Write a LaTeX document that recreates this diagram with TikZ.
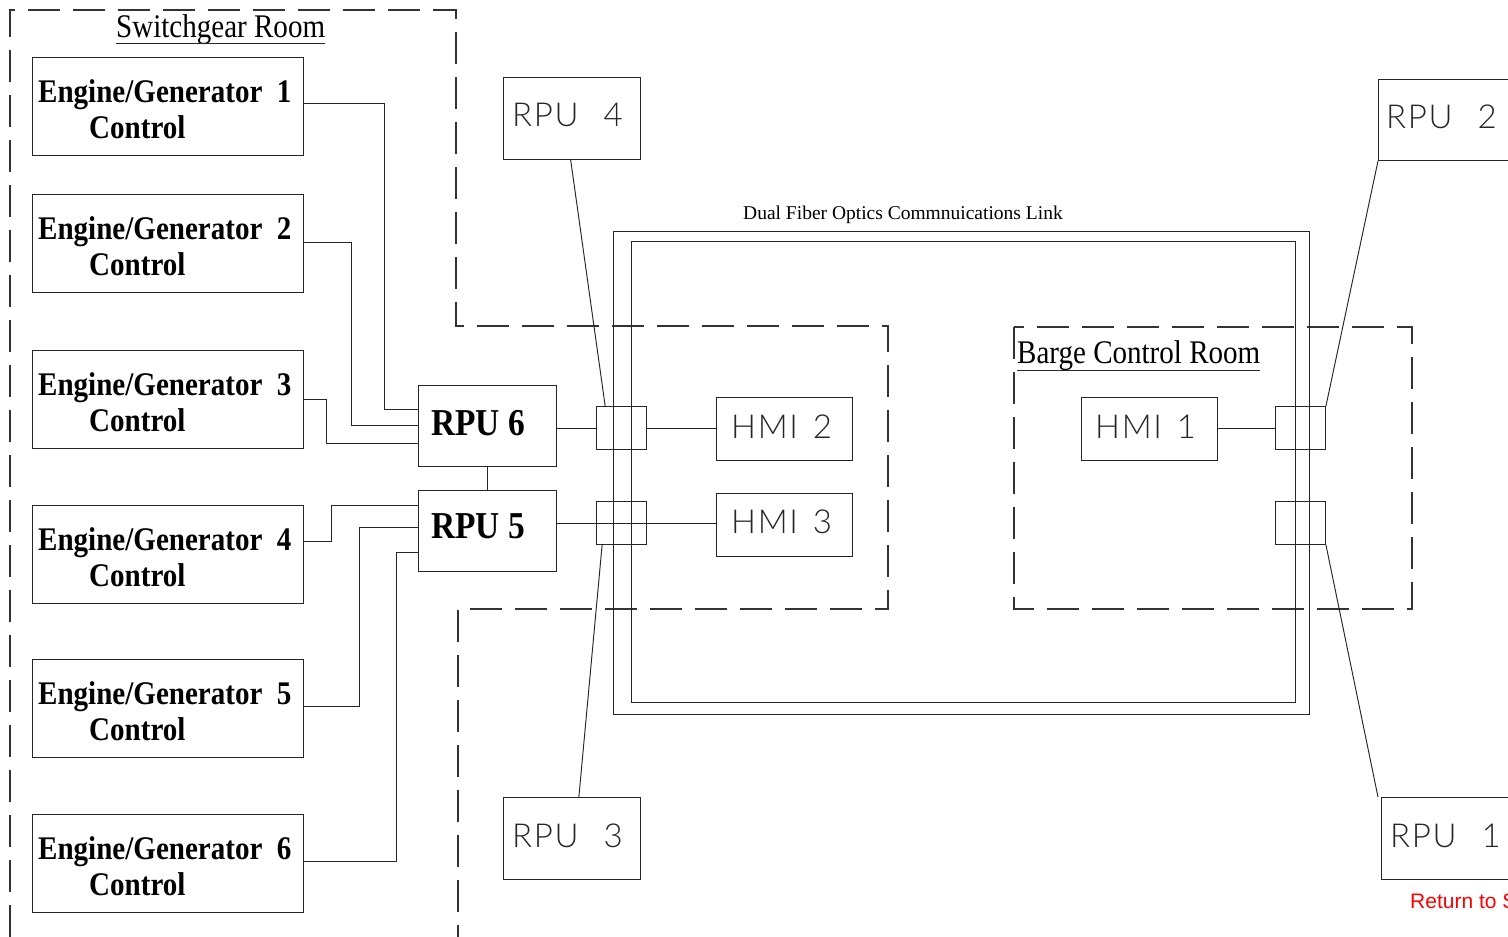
\documentclass[tikz,border=0pt]{standalone}
\usepackage{fontspec}
\setmainfont{Liberation Serif}
\newfontfamily\cadfont{Lato Light}[LetterSpace=5]
\newfontfamily\arialfont{Liberation Sans}
\usetikzlibrary{calc}
\newcommand{\nar}[1]{\scalebox{0.88}[1]{#1}}
\tikzset{
  wire/.style={line width=0.95pt, draw=black!85},
  roomline/.style={line width=1.1pt, draw=black!80, dash pattern=on 32pt off 13pt},
  boxn/.style={draw=black!85, line width=0.95pt, inner sep=0pt, anchor=north west, rectangle},
  egbox/.style={boxn, minimum width=271pt, minimum height=97.5pt},
  rpubox/.style={boxn, minimum width=138pt, minimum height=81pt},
  jbox/.style={boxn, minimum width=50pt, minimum height=43pt},
  hmibox/.style={boxn, minimum width=136pt, minimum height=63pt},
  cadbox/.style={boxn, minimum width=137pt, minimum height=81.5pt},
  txt/.style={inner sep=0pt, anchor=base west},
  egt/.style={txt, font=\fontsize{33}{33}\selectfont\bfseries},
  rpt/.style={txt, font=\fontsize{38}{38}\selectfont\bfseries},
  cadt/.style={txt, font=\fontsize{33}{33}\selectfont\cadfont, text=black!85},
  roomt/.style={txt, font=\fontsize{33}{33}\selectfont},
}
\begin{document}
\begin{tikzpicture}[x=1pt,y=-1pt]
\useasboundingbox (0,0) rectangle (1508,937);
\fill[white] (0,0) rectangle (1508,937);

% rooms
\draw[roomline] (10,937) -- (10,10) -- (456,10) -- (456,326) -- (888,326) -- (888,609) -- (458,609) -- (458,937);
\draw[roomline] (1014,327) rectangle (1412,609);
\node[roomt] (sgr) at (116,37) {\nar{Switchgear Room}};
\draw[wire] ($(sgr.base west)+(0,6)$) -- ($(sgr.base east)+(0,6)$);
\node[roomt] (bcr) at (1017,363) {\nar{Barge Control Room}};
\draw[wire] ($(bcr.base west)+(0,7)$) -- ($(bcr.base east)+(0,7)$);

% engine/generator controls
\foreach \i/\t in {1/57,2/194,3/350,4/505,5/659,6/814}{
  \node[egbox] (eg\i) at (32,\t) {};
  \node[egt] (eg\i a) at (38,\t+45) {\nar{Engine/Generator\ \ \i}};
  \node[egt] (eg\i b) at (89,\t+81) {\nar{Control}};
}

% RPU 6 / RPU 5
\node[rpubox] (rpu6) at (418,385) {};
\node[rpt] (rpu6t) at (431,435) {\nar{RPU 6}};
\node[rpubox] (rpu5) at (418,490) {};
\node[rpt] (rpu5t) at (431,538) {\nar{RPU 5}};
\draw[wire] (rpu6.south) -- (rpu5.north);

\draw[wire] (eg1.east |- 0,103) -| (384,409) -- (rpu6.west |- 0,409);
\draw[wire] (eg2.east |- 0,242) -| (351,425) -- (rpu6.west |- 0,425);
\draw[wire] (eg3.east |- 0,399) -| (326,443) -- (rpu6.west |- 0,443);
\draw[wire] (eg4.east |- 0,541) -| (331,505) -- (rpu5.west |- 0,505);
\draw[wire] (eg5.east |- 0,706) -| (359,527) -- (rpu5.west |- 0,527);
\draw[wire] (eg6.east |- 0,861) -| (396,552) -- (rpu5.west |- 0,552);

% fiber link
\draw[wire] (613,231) rectangle (1309,714);
\draw[wire] (631,241) rectangle (1295,702);
\node[txt, font=\fontsize{19.5}{19.5}\selectfont] (fib) at (743,219) {Dual Fiber Optics Commnuications Link};

% junction boxes
\node[jbox] (jb1) at (596,406) {};
\node[jbox] (jb2) at (596,501) {};
\node[jbox] (jb3) at (1275,406) {};
\node[jbox] (jb4) at (1275,501) {};

% HMIs
\node[hmibox] (hmi2) at (716,397) {};
\node[cadt] (hmi2t) at (731,438) {HMI\hspace{15pt}2};
\node[hmibox] (hmi3) at (716,493) {};
\node[cadt] (hmi3t) at (731,533) {HMI\hspace{15pt}3};
\node[hmibox] (hmi1) at (1081,397) {};
\node[cadt] (hmi1t) at (1095,438) {HMI\hspace{15pt}1};

\draw[wire] (rpu6.east |- jb1.west) -- (jb1.west);
\draw[wire] (jb1.east) -- (hmi2.west |- jb1.east);
\draw[wire] (rpu5.east |- jb2.center) -- (hmi3.west |- jb2.center);
\draw[wire] (hmi1.east |- jb3.west) -- (jb3.west);

% remote RPUs
\node[cadbox] (rpu4) at (503,77) {};
\node[cadt] (rpu4t) at (512,126) {RPU\hspace{25pt}4};
\node[cadbox] (rpu3) at (503,797) {};
\node[cadt] (rpu3t) at (512,847) {RPU\hspace{25pt}3};
\node[boxn, minimum width=160pt, minimum height=81pt] (rpu2) at (1378,79) {};
\node[cadt] (rpu2t) at (1386,128) {RPU\hspace{25pt}2};
\node[boxn, minimum width=160pt, minimum height=82pt] (rpu1) at (1381,797) {};
\node[cadt] (rpu1t) at (1390,847) {RPU\hspace{25pt}1};

\draw[wire] ($(rpu4.south west)!0.49!(rpu4.south east)$) -- ($(jb1.north west)!0.18!(jb1.north east)$);
\draw[wire] ($(jb2.south west)!0.12!(jb2.south east)$) -- ($(rpu3.north west)!0.55!(rpu3.north east)$);
\draw[wire] (rpu2.south west) -- (jb3.north east);
\draw[wire] (jb4.south east) -- ($(rpu1.north west)+(-3,0)$);

\node[txt, font=\fontsize{21}{21}\selectfont\arialfont, text=red] (ret) at (1410,908) {Return to S};
\end{tikzpicture}
\end{document}
